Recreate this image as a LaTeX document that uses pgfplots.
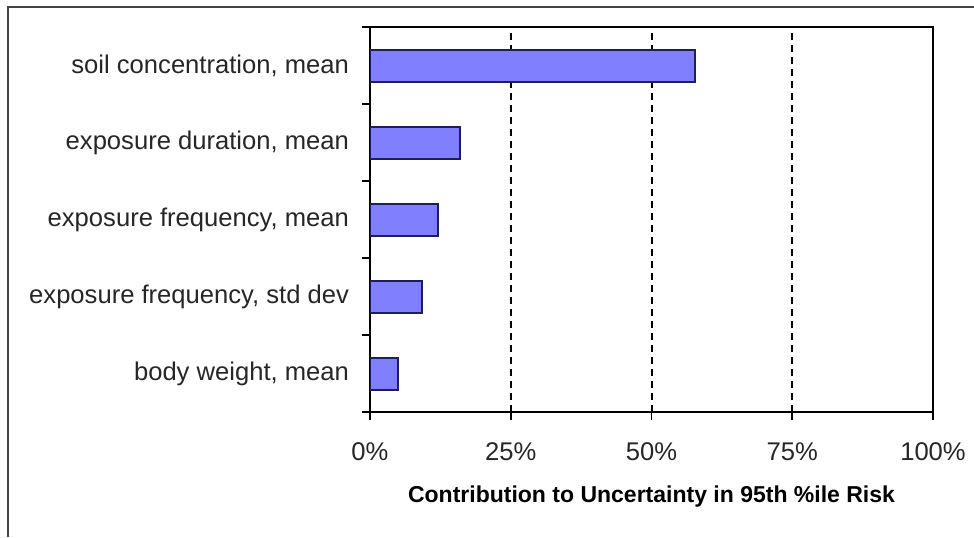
\documentclass[border=0pt]{standalone}
\usepackage{fontspec}
\setmainfont{Liberation Sans}
\usepackage{pgfplots}
\pgfplotsset{compat=1.18}
\definecolor{barfill}{HTML}{8080FF}
\definecolor{baredge}{HTML}{1E1E5A}
\definecolor{frame}{HTML}{444444}
\begin{document}
\begin{tikzpicture}
\useasboundingbox (0pt,0pt) rectangle (487pt,268.5pt);
\draw[line width=1pt, color=frame] (4pt,0pt) -- (4pt,265pt) -- (487pt,265pt);
\begin{axis}[
  at={(185pt,62.5pt)}, anchor=south west,
  scale only axis, width=281.5pt, height=192.5pt,
  xmin=0, xmax=100, ymin=-0.5, ymax=4.5,
  xbar, bar width=16pt,
  axis line style={line width=0.9pt, black},
  xtick={0,25,50,75,100},
  xticklabels={0\%,25\%,50\%,75\%,100\%},
  ytick={-0.5,0.5,1.5,2.5,3.5,4.5},
  yticklabels={},
  extra y ticks={0,1,2,3,4},
  extra y tick labels={{body weight, mean},{exposure frequency, std dev},{exposure frequency, mean},{exposure duration, mean},{soil concentration, mean}},
  extra y tick style={tick style={draw=none}},
  xmajorgrids,
  major grid style={black, line width=1pt, dash pattern=on 3.5pt off 2.5pt},
  tick align=outside, xtick pos=bottom, ytick pos=left,
  major tick length=4pt,
  tick style={line width=0.9pt, black},
  ticklabel style={font=\fontsize{12.8}{15}\selectfont, text=black!85},
  xticklabel style={yshift=-8pt},
  yticklabel style={xshift=-3pt},
  xlabel={Contribution to Uncertainty in 95th \%ile Risk},
  xlabel style={font=\fontsize{11.5}{14}\selectfont\bfseries, at={(axis description cs:0.5,0)}, anchor=center, yshift=-42.5pt},
]
\addplot[fill=barfill, draw=baredge, line width=1pt] coordinates {
  (5.0,0) (9.2,1) (12.1,2) (16.0,3) (57.7,4)
};
\end{axis}
\end{tikzpicture}
\end{document}
